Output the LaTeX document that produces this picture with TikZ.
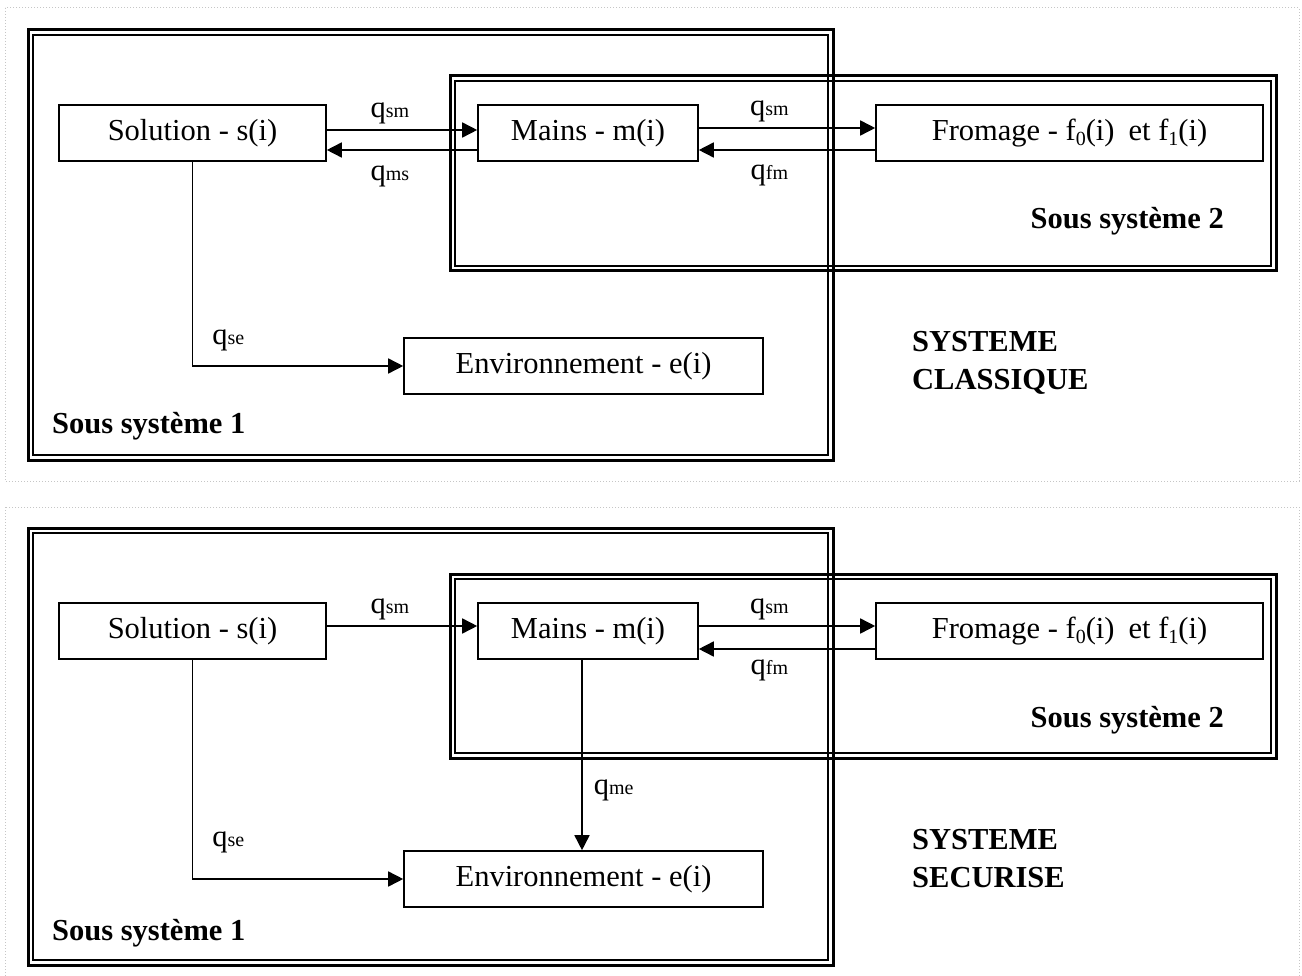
\documentclass[tikz,border=0pt]{standalone}
\usepackage{fontspec}
\setmainfont{Liberation Serif}
\usetikzlibrary{arrows.meta}

% debit q avec indice
\newcommand{\debit}[1]{q{\fontsize{20}{20}\selectfont #1}}
\newcommand{\findice}[1]{f\raisebox{-5pt}{\fontsize{20}{20}\selectfont #1}}

\tikzset{
  bloc/.style={draw, line width=1.6pt, minimum height=56pt, inner sep=0pt},
  flux/.style={-{Triangle[length=15pt,width=15pt]}, line width=1.6pt},
  lbl/.style={inner sep=0pt},
  titre/.style={font={\fontsize{30.5}{38}\selectfont\bfseries}, inner sep=0pt},
  cadreext/.style={line width=3pt},
  cadreint/.style={line width=1.6pt},
  panneau/.style={draw=gray!45, dotted, line width=1pt},
}

\begin{document}
\begin{tikzpicture}[x=1pt, y=-1pt, font=\fontsize{30.5}{38}\selectfont]
\useasboundingbox (0,0) rectangle (1302,976);

% ---- systeme classique ----
\draw[panneau] (5,8) rectangle (1299,481);
\draw[cadreext] (28,30) rectangle (833,460);
\draw[cadreint] (33,35) rectangle (828,455);
\draw[cadreext] (450,76) rectangle (1276,271);
\draw[cadreint] (455,81) rectangle (1271,266);

\node[bloc, minimum width=267pt] (solA) at (192.5,133) {Solution - s(i)};
\node[bloc, minimum width=220pt] (mainA) at (588,133) {Mains - m(i)};
\node[bloc, minimum width=387pt] (fromA) at (1069.5,133) {Fromage - \findice{0}(i)\hspace{14pt}et \findice{1}(i)};
\node[bloc, minimum width=359pt] (envA) at (583.5,366) {Environnement - e(i)};

\draw[flux] ([yshift=3pt]solA.east) -- ([yshift=3pt]mainA.west)
  node[lbl, pos=0.42, above=5pt] {\debit{sm}};
\draw[flux] ([yshift=-17pt]mainA.west) -- ([yshift=-17pt]solA.east)
  node[lbl, pos=0.58, below=15pt] {\debit{ms}};
\draw[flux] ([yshift=5pt]mainA.east) -- ([yshift=5pt]fromA.west)
  node[lbl, pos=0.4, above=5pt] {\debit{sm}};
\draw[flux] ([yshift=-17pt]fromA.west) -- ([yshift=-17pt]mainA.east)
  node[lbl, pos=0.6, below=14pt] {\debit{fm}};
\draw[flux] (solA.south) |- (envA.west)
  node[lbl, pos=0.5, anchor=base west, xshift=19pt, yshift=21pt] {\debit{se}};

\node[titre, anchor=base west] (ss1A) at (52,433) {Sous système 1};
\node[titre, anchor=base east] (ss2A) at (1224,229) {Sous système 2};
\node[titre, anchor=north west, align=left] (sysA) at (912,331) {SYSTEME\\CLASSIQUE};

% ---- systeme securise ----
\draw[panneau] (5,507) rectangle (1299,990);
\draw[cadreext] (28,528) rectangle (833,965);
\draw[cadreint] (33,533) rectangle (828,960);
\draw[cadreext] (450,574) rectangle (1276,758);
\draw[cadreint] (455,579) rectangle (1271,753);

\node[bloc, minimum width=267pt] (solB) at (192.5,631) {Solution - s(i)};
\node[bloc, minimum width=220pt] (mainB) at (588,631) {Mains - m(i)};
\node[bloc, minimum width=387pt] (fromB) at (1069.5,631) {Fromage - \findice{0}(i)\hspace{14pt}et \findice{1}(i)};
\node[bloc, minimum width=359pt] (envB) at (583.5,879) {Environnement - e(i)};

\draw[flux] ([yshift=5pt]solB.east) -- ([yshift=5pt]mainB.west)
  node[lbl, pos=0.42, above=5pt] {\debit{sm}};
\draw[flux] ([yshift=5pt]mainB.east) -- ([yshift=5pt]fromB.west)
  node[lbl, pos=0.4, above=5pt] {\debit{sm}};
\draw[flux] ([yshift=-18pt]fromB.west) -- ([yshift=-18pt]mainB.east)
  node[lbl, pos=0.6, below=10pt] {\debit{fm}};
\draw[flux] ([xshift=-6pt]mainB.south) -- ([xshift=-6pt]mainB.south |- envB.north)
  node[lbl, pos=0.707, anchor=base west, xshift=11pt] {\debit{me}};
\draw[flux] (solB.south) |- (envB.west)
  node[lbl, pos=0.5, anchor=base west, xshift=19pt, yshift=33pt] {\debit{se}};

\node[titre, anchor=base west] (ss1B) at (52,940) {Sous système 1};
\node[titre, anchor=base east] (ss2B) at (1224,727) {Sous système 2};
\node[titre, anchor=north west, align=left] (sysB) at (912,829) {SYSTEME\\SECURISE};
\end{tikzpicture}
\end{document}
